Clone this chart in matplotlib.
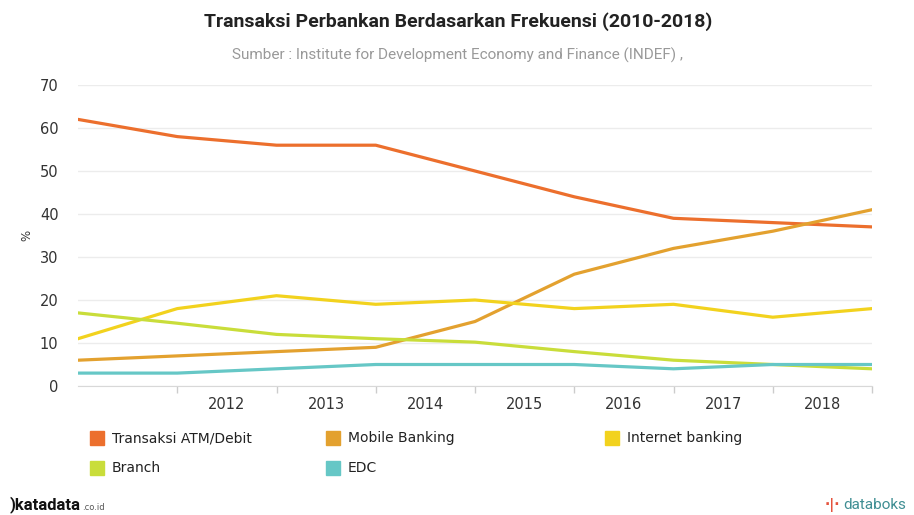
import numpy as np
import matplotlib.pyplot as plt
from matplotlib.patches import Rectangle

# data (2010-2018)
years = [2010, 2011, 2012, 2013, 2014, 2015, 2016, 2017, 2018]
atm_debit = [62, 58, 56, 56, 50, 44, 39, 38, 37]
mobile_banking = [6, 7, 8, 9, 15, 26, 32, 36, 41]
internet_banking = [11, 18, 21, 19, 20, 18, 19, 16, 18]
branch = [17, 14.6, 12, 11, 10.2, 8, 6, 5, 4]
edc = [3, 3, 4, 5, 5, 5, 4, 5, 5]
tick_labels = ['2012', '2013', '2014', '2015', '2016', '2017', '2018']

series = [
    ('Transaksi ATM/Debit', atm_debit, '#EC6F2D'),
    ('Mobile Banking', mobile_banking, '#E3A12F'),
    ('Internet banking', internet_banking, '#F2D21E'),
    ('Branch', branch, '#C9DD3A'),
    ('EDC', edc, '#66C7C6'),
]

plt.rcParams['font.family'] = 'DejaVu Sans'

fig = plt.figure(figsize=(9.14, 5.15), dpi=100)
ax = fig.add_axes([78 / 914, 129 / 515, 794 / 914, 301 / 515])

x = np.arange(len(years))
for name, vals, col in series:
    ax.plot(x, vals, color=col, linewidth=2.3, solid_joinstyle='round')

# tick marks sit on the points, labels sit between them
ax.set_xticks(x[1:])
ax.set_xticklabels([])
ax.set_xticks(np.arange(1.5, 8, 1), labels=tick_labels, minor=True)
ax.tick_params(axis='x', which='major', length=5, color='#CCCCCC', width=1)
ax.tick_params(axis='x', which='minor', length=0, pad=8, labelsize=10.5, labelcolor='#333333')
ax.tick_params(axis='y', length=0, pad=14, labelsize=10.5, labelcolor='#333333')

ax.set_xlim(0, len(years) - 1)
ax.set_ylim(0, 70)
ax.set_yticks(range(0, 71, 10))
ax.grid(axis='y', color='#ECECEC', linewidth=1)
ax.set_axisbelow(True)

for s in ['top', 'right', 'left']:
    ax.spines[s].set_visible(False)
ax.spines['bottom'].set_color('#D8D8D8')

fig.text(27 / 914, 1 - 235 / 515, '%', rotation=90, ha='center', va='center',
         fontsize=8.5, color='#333333')

fig.text(458 / 914, 1 - 22 / 515, 'Transaksi Perbankan Berdasarkan Frekuensi (2010-2018)',
         ha='center', va='center', fontsize=14, fontweight='bold', color='#222222',
         family='Roboto')
fig.text(458 / 914, 1 - 55 / 515, 'Sumber : Institute for Development Economy and Finance (INDEF) ,',
         ha='center', va='center', fontsize=11, color='#999999', family='Roboto')

# legend laid out like the original
leg_pos = [(90, 438), (326, 438), (605, 438), (90, 468), (326, 468)]
for (name, vals, col), (lx, ly) in zip(series, leg_pos):
    fig.add_artist(Rectangle((lx / 914, 1 - (ly + 7) / 515), 14 / 914, 14 / 515,
                             transform=fig.transFigure, color=col))
    fig.text((lx + 22) / 914, 1 - ly / 515, name, ha='left', va='center',
             fontsize=10, color='#222222')

# footer logos
fig.text(10 / 914, 1 - 505 / 515, ')katadata', ha='left', va='center',
         fontsize=12, fontweight='bold', color='#111111', family='Roboto')
fig.text(82 / 914, 1 - 508 / 515, '.co.id', ha='left', va='center',
         fontsize=6, color='#555555')
fig.text(906 / 914, 1 - 505 / 515, 'databoks', ha='right', va='center',
         fontsize=11, color='#3F8E93', family='Roboto')
fig.text(840 / 914, 1 - 505 / 515, '\u00b7|\u00b7', ha='right', va='center',
         fontsize=10, color='#E5533D', fontweight='bold')

fig.savefig('out.png', dpi=100)
